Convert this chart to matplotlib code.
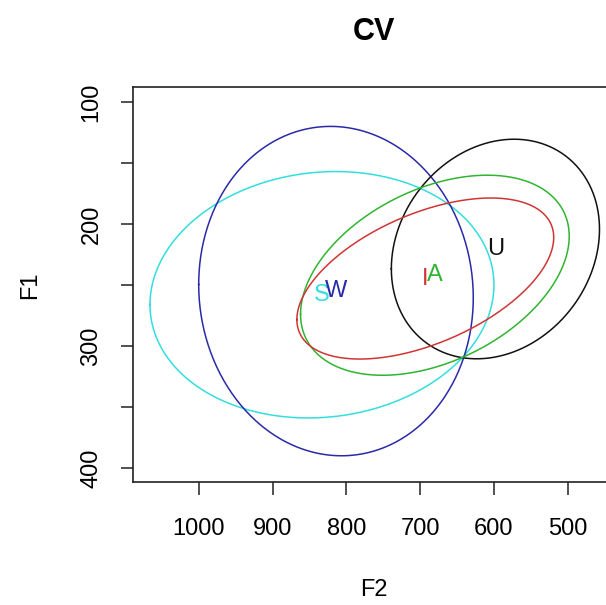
import numpy as np
import matplotlib
matplotlib.use("Agg")
import matplotlib.pyplot as plt

plt.rcParams['font.family'] = ['Liberation Sans', 'DejaVu Sans']

# Vowel ellipses: label, colour, centre F2, centre F1, half-range F2, half-range F1, correlation
labels = ["S", "W", "U", "A", "I"]
colors = ["#33dede", "#2a2aa8", "#111111", "#2fb52f", "#d03535"]
center_f2 = [833, 814, 598, 680, 693]
center_f1 = [258, 255, 220.5, 242, 244.7]
range_f2 = [233, 186, 141, 182, 174]
range_f1 = [101, 135, 90, 82, 66]
corr = [0.08, -0.04, 0.18, 0.39, 0.51]

xticks = [1000, 900, 800, 700, 600, 500]
yticks_major = [100, 200, 300, 400]
yticks_minor = [150, 250, 350]

fig = plt.figure(figsize=(6.06, 6.05), dpi=100)
ax = fig.add_axes([133/606, 1-482/605, (615-133)/606, (482-87)/605])

t = np.linspace(0, 2*np.pi, 400)
for lab, col, cx, cy, rx, ry, c in zip(labels, colors, center_f2, center_f1, range_f2, range_f1, corr):
    d = np.arccos(c)
    x = cx + rx*np.cos(t)
    y = cy + ry*np.cos(t - d)
    ax.plot(x, y, color=col, lw=1.1)
    ax.text(cx, cy, lab, color=col, fontsize=17, ha='center', va='center')

ax.set_xlim(1089, 436)
ax.set_ylim(411.5, 87.7)
ax.set_xticks(xticks)
ax.set_xticklabels([str(v) for v in xticks])
ax.set_yticks(yticks_major)
ax.set_yticklabels([str(v) for v in yticks_major], rotation=90, va='center')
ax.set_yticks(yticks_minor, minor=True)
ax.tick_params(axis='both', which='both', direction='out', length=9, width=1.1, labelsize=17, color='#222222')
ax.tick_params(axis='x', pad=17)
ax.tick_params(axis='y', pad=13)
ax.tick_params(axis='y', which='minor', labelleft=False)
for s in ax.spines.values():
    s.set_linewidth(1.2)
    s.set_color('#222222')

fig.text(374/606, 1-32/605, "CV", ha='center', va='center', fontsize=22, fontweight='bold')
fig.text(374/606, 1-590/605, "F2", ha='center', va='center', fontsize=17)
fig.text(30/606, 1-285/605, "F1", ha='center', va='center', fontsize=17, rotation=90)

fig.savefig("out.png", dpi=100)
